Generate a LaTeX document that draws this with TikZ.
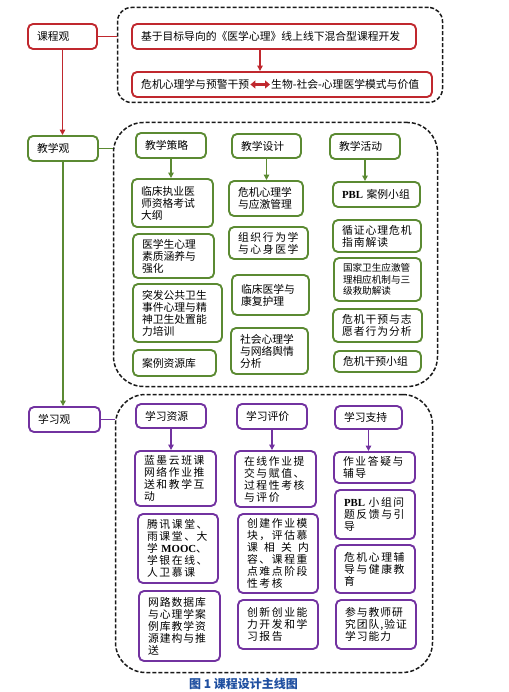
\documentclass[tikz,border=0pt]{standalone}
\usepackage{fontspec}
\setmainfont{Liberation Serif}
\newfontfamily\cjk{Noto Sans CJK SC}
\newfontfamily\cjkls[LetterSpace=9]{Noto Sans CJK SC}
\newfontfamily\cjkxl[LetterSpace=15]{Noto Sans CJK SC}
\usetikzlibrary{arrows.meta}

\definecolor{kcred}{HTML}{C0282E}
\definecolor{kcgreen}{HTML}{5B8A32}
\definecolor{kcpurple}{HTML}{7232A0}
\definecolor{kcblue}{HTML}{1F4FA0}

\tikzset{
  tbox/.style={draw, line width=1.9pt, rounded corners=5pt, inner xsep=9pt, inner ysep=1pt,
    align=left, text=black, font=\cjk\fontsize{10.8}{12}\selectfont},
  rbox/.style={tbox, draw=kcred},
  gbox/.style={tbox, draw=kcgreen},
  pbox/.style={tbox, draw=kcpurple},
  loose/.style={font=\cjkls\fontsize{10.8}{12}\selectfont},
  looser/.style={font=\cjkxl\fontsize{10.8}{12}\selectfont},
  grp/.style={draw=black!90, line width=1.5pt, dash pattern=on 4pt off 2pt, rounded corners=#1},
  rline/.style={draw=kcred, line width=1.6pt},
  gline/.style={draw=kcgreen, line width=1.6pt},
  pline/.style={draw=kcpurple, line width=1.6pt},
  tip/.style={-{Triangle[length=5.5pt,width=5.5pt]}},
}

\begin{document}
\begin{tikzpicture}[x=1pt,y=-1pt]
\useasboundingbox (0,0) rectangle (508,692);
% dashed groups
\node[grp=14pt, minimum width=325pt, minimum height=95pt] (kcg) at (280,55){};
\node[grp=30pt, minimum width=324pt, minimum height=264pt] (jxg) at (275.5,254.5){};
\node[grp=30pt, minimum width=317pt, minimum height=278pt] (xxg) at (274,533.5){};
% 课程观
\node[rbox, text width=51pt, minimum height=25pt] (kc) at (62.5,36.5){课程观};
\node[rbox, text width=266pt, minimum height=25pt] (kc1) at (274,36.5){基于目标导向的《医学心理》线上线下混合型课程开发};
\node[rbox, text width=282pt, minimum height=25pt] (kc2) at (282,84.5){};
\node[inner sep=0pt, anchor=west, text=black, font=\cjk\fontsize{10.8}{12}\selectfont] (wxl) at (141,84.5){危机心理学与预警干预};
\node[inner sep=0pt, anchor=west, text=black, font=\cjk\fontsize{10.8}{12}\selectfont] (wxr) at (271,84.5){生物-社会-心理医学模式与价值};
\draw[kcred, line width=3pt, {Triangle[length=5pt,width=8pt]}-{Triangle[length=5pt,width=8pt]}, shorten <=1pt, shorten >=1pt](wxl.east) -- (wxr.west);
\draw[rline](kc.east) -- (kc.east -| kcg.west);
\draw[rline, tip]([xshift=-14pt]kc1.south) -- ([xshift=-22pt]kc2.north);
% 教学观
\node[gbox, text width=52pt, minimum height=25pt] (jx) at (63,148.5){教学观};
\draw[rline, tip](kc.south) -- (kc.south |- jx.north);
\draw[gline](jx.east) -- (jx.east -| jxg.west);
\node[gbox, text width=52pt, minimum height=25pt] (cl) at (171,145.5){教学策略};
\node[gbox, text width=63pt, minimum height=48pt] (cl1) at (172.5,203){临床执业医\\师资格考试\\大纲};
\node[gbox, text width=63pt, minimum height=44pt] (cl2) at (173.5,256){医学生心理\\素质涵养与\\强化};
\node[gbox, text width=71pt, minimum height=58pt] (cl3) at (177.5,313){突发公共卫生\\事件心理与精\\神卫生处置能\\力培训};
\node[gbox, text width=65pt, minimum height=26pt] (cl4) at (174.5,363){案例资源库};
\draw[gline, tip](cl.south) -- (cl.south |- cl1.north);
\node[gbox, text width=51pt, minimum height=24pt] (sj) at (266.5,146){教学设计};
\node[gbox, text width=56pt, minimum height=35pt] (sj1) at (266,198.5){危机心理学\\与应激管理};
\node[gbox, looser, text width=61pt, minimum height=32pt] (sj2) at (268.5,243){组织行为学\\与心身医学};
\node[gbox, text width=59pt, minimum height=40pt] (sj3) at (270.5,295){临床医学与\\康复护理};
\node[gbox, text width=59pt, minimum height=46pt] (sj4) at (269.5,351){社会心理学\\与网络舆情\\分析};
\draw[gline, tip](sj.south) -- (sj.south |- sj1.north);
\node[gbox, text width=52pt, minimum height=25pt] (hd) at (365,146.5){教学活动};
\node[gbox, text width=69pt, minimum height=25pt] (hd1) at (376.5,194.5){{\rmfamily\bfseries PBL}~案例小组};
\node[gbox, loose, text width=70pt, minimum height=32pt] (hd2) at (377,236){循证心理危机\\指南解读};
\node[gbox, font=\cjk\fontsize{9.6}{11.5}\selectfont, text width=69pt, minimum height=43pt] (hd3) at (377.5,279.5){国家卫生应激管\\理相应机制与三\\级救助解读};
\node[gbox, loose, text width=71pt, minimum height=33pt] (hd4) at (377.5,325.5){危机干预与志\\愿者行为分析};
\node[gbox, text width=69pt, minimum height=21pt] (hd5) at (377.5,361.5){危机干预小组};
\draw[gline, tip](hd.south) -- (hd.south |- hd1.north);
% 学习观
\node[pbox, text width=53pt, minimum height=25pt] (xx) at (64.5,419.5){学习观};
\draw[gline, tip](jx.south) -- (jx.south |- xx.north);
\draw[pline](xx.east) -- (xx.east -| xxg.west);
\node[pbox, text width=52pt, minimum height=24pt] (zy) at (171,416){学习资源};
\node[pbox, looser, text width=63pt, minimum height=55pt] (zy1) at (175.5,478.5){蓝墨云班课\\网络作业推\\送和教学互\\动};
\node[pbox, looser, text width=62pt, minimum height=69pt] (zy2) at (178,548.5){腾讯课堂、\\雨课堂、大\\学~{\rmfamily\bfseries MOOC}、\\学银在线、\\人卫慕课};
\node[pbox, loose, text width=63pt, minimum height=70pt] (zy3) at (179.5,626){网路数据库\\与心理学案\\例库教学资\\源建构与推\\送};
\draw[pline, tip](zy.south) -- (zy.south |- zy1.north);
\node[pbox, text width=52pt, minimum height=25pt] (pj) at (272,416.5){学习评价};
\node[pbox, looser, text width=63pt, minimum height=56pt] (pj1) at (275.5,479){在线作业提\\交与赋值、\\过程性考核\\与评价};
\node[pbox, looser, text width=62pt, minimum height=79pt] (pj2) at (278,553.5){创建作业模\\块，评估慕\\课\hfill 相\hfill 关\hfill 内\\容、课程重\\点难点阶段\\性考核};
\node[pbox, looser, text width=62pt, minimum height=49pt] (pj3) at (278,624.5){创新创业能\\力开发和学\\习报告};
\draw[pline, tip](pj.south) -- (pj.south |- pj1.north);
\node[pbox, text width=49pt, minimum height=23pt] (zc) at (368.5,417.5){学习支持};
\node[pbox, looser, text width=63pt, minimum height=31pt] (zc1) at (374.5,467.5){作业答疑与\\辅导};
\node[pbox, looser, text width=62pt, minimum height=49pt] (zc2) at (375,514.5){{\rmfamily\bfseries PBL}~小组问\\题反馈与引\\导};
\node[pbox, looser, text width=62pt, minimum height=48pt] (zc3) at (375,569){危机心理辅\\导与健康教\\育};
\node[pbox, loose, text width=62pt, minimum height=49pt] (zc4) at (376,624.5){参与教师研\\究团队,验证\\学习能力};
\draw[pline, tip](zc.south) -- (zc.south |- zc1.north);
% caption
\node[text=kcblue, font=\cjk\bfseries\fontsize{12}{14}\selectfont] (cap) at (243.5,684){图 1 课程设计主线图};
\end{tikzpicture}
\end{document}
